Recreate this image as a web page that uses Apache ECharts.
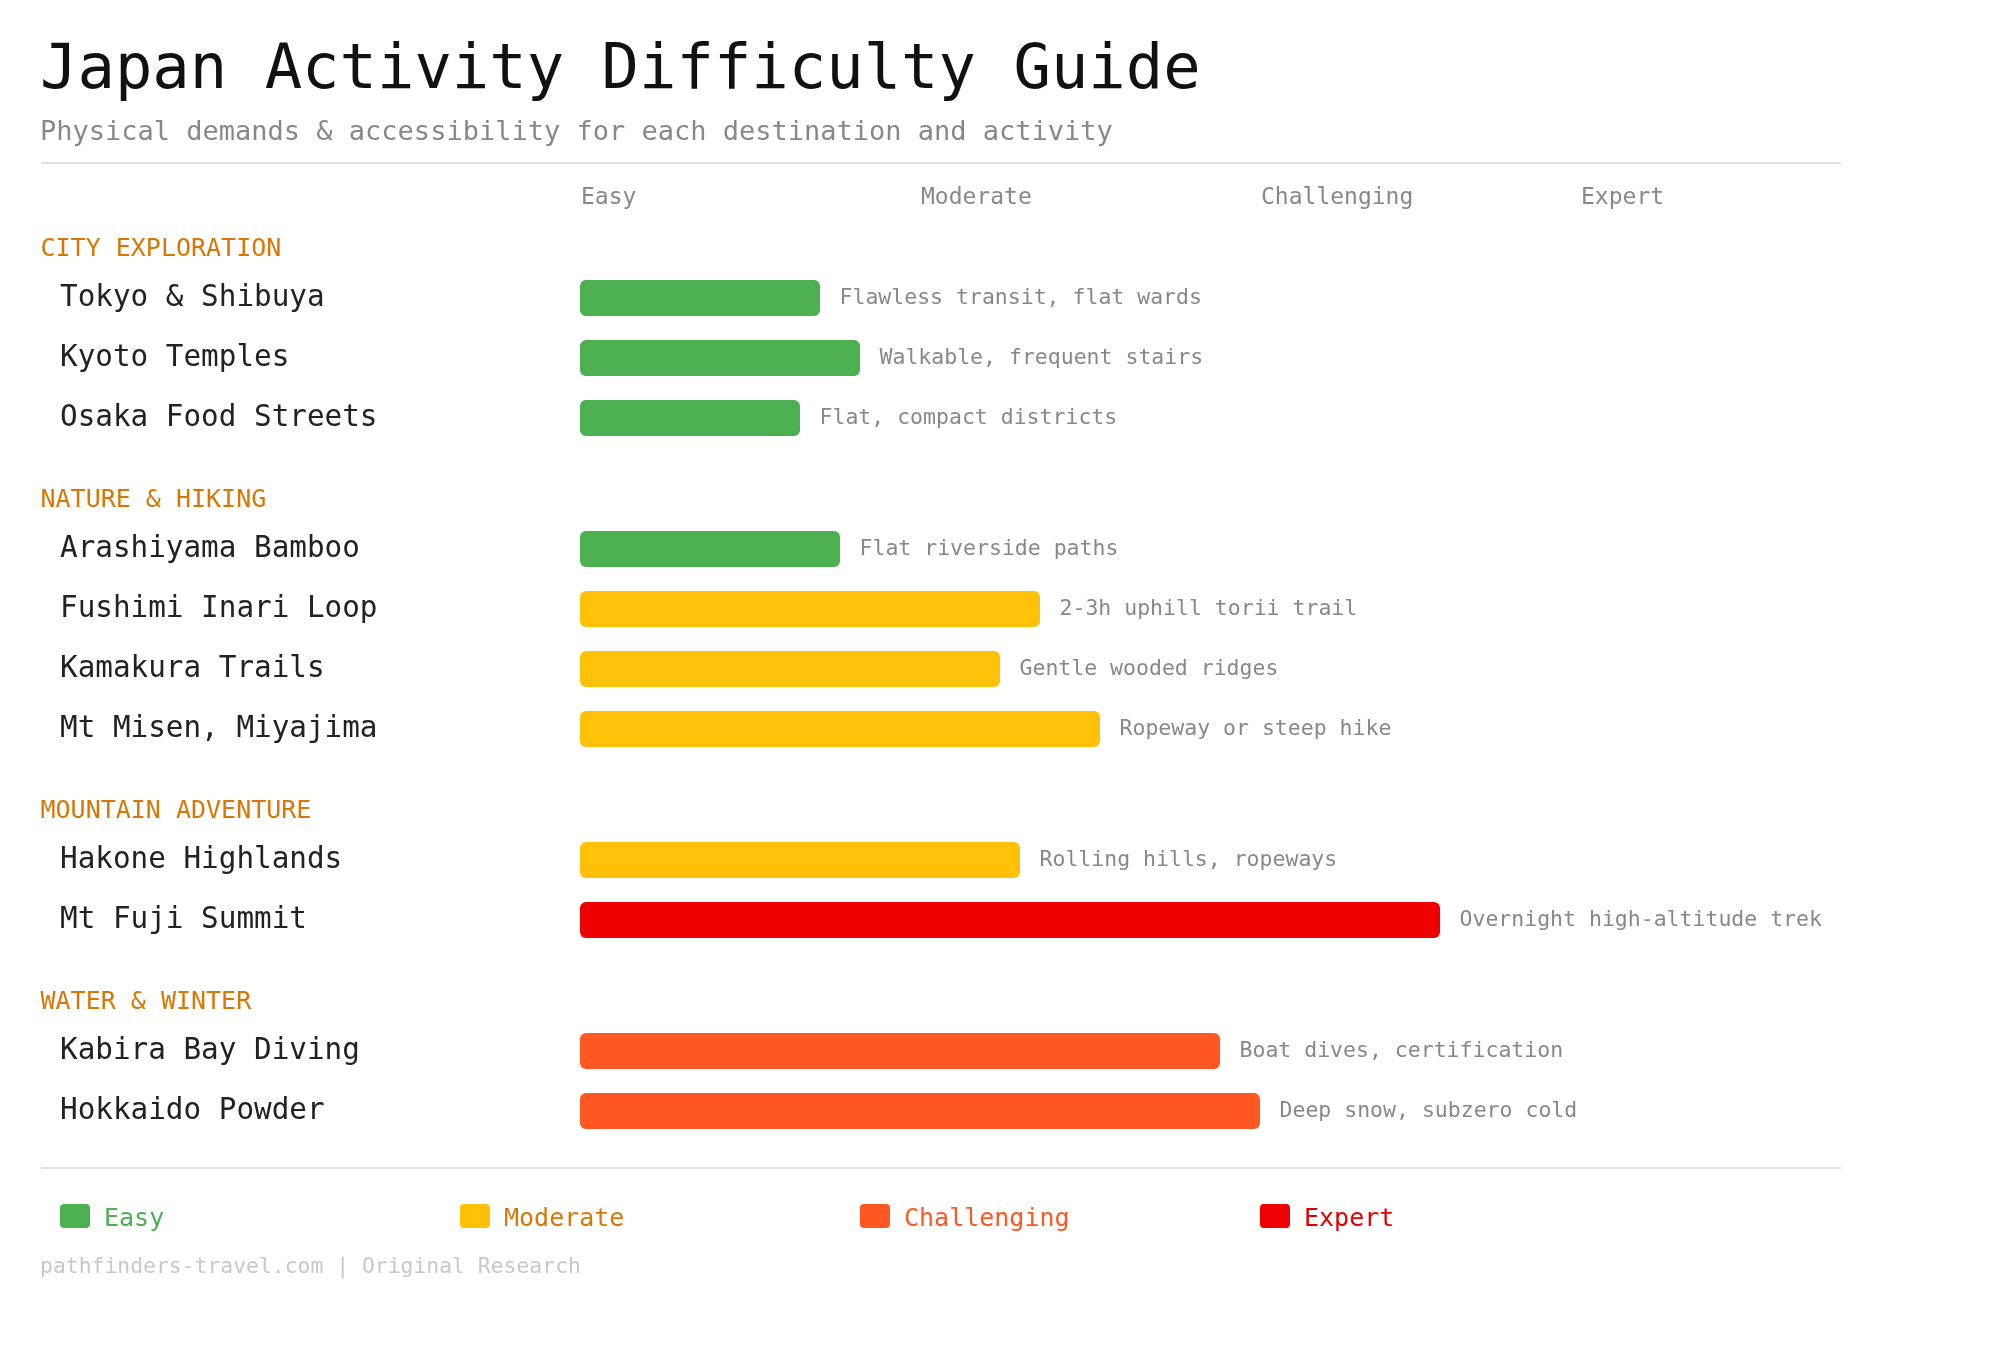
<!DOCTYPE html>
<html>
<head>
<meta charset="utf-8">
<title>Japan Activity Difficulty Guide</title>
<script src="https://cdn.jsdelivr.net/npm/echarts@6/dist/echarts.min.js"></script>
<style>
  html, body { margin: 0; padding: 0; background: #fff; }
  #main { width: 2000px; height: 1360px; }
</style>
</head>
<body>
<div id="main"></div>
<script>
// groups of activities, in display order
const groups = ['CITY EXPLORATION', 'NATURE & HIKING', 'MOUNTAIN ADVENTURE', 'WATER & WINTER'];

const activities = [
  'Tokyo & Shibuya', 'Kyoto Temples', 'Osaka Food Streets',
  'Arashiyama Bamboo', 'Fushimi Inari Loop', 'Kamakura Trails', 'Mt Misen, Miyajima',
  'Hakone Highlands', 'Mt Fuji Summit',
  'Kabira Bay Diving', 'Hokkaido Powder'
];
const activityGroup = [0, 0, 0, 1, 1, 1, 1, 2, 2, 3, 3];

// difficulty score, 0-100
const scores = [24, 28, 22, 26, 46, 42, 52, 44, 86, 64, 68];

const levels = [
  'Easy', 'Easy', 'Easy',
  'Easy', 'Moderate', 'Moderate', 'Moderate',
  'Moderate', 'Expert',
  'Challenging', 'Challenging'
];

const notes = [
  'Flawless transit, flat wards', 'Walkable, frequent stairs', 'Flat, compact districts',
  'Flat riverside paths', '2-3h uphill torii trail', 'Gentle wooded ridges', 'Ropeway or steep hike',
  'Rolling hills, ropeways', 'Overnight high-altitude trek',
  'Boat dives, certification', 'Deep snow, subzero cold'
];

const levelNames = ['Easy', 'Moderate', 'Challenging', 'Expert'];
const footerText = 'pathfinders-travel.com | Original Research';

// colours per level
const barColors = { Easy: '#4CAF50', Moderate: '#FFC107', Challenging: '#FF5722', Expert: '#EE0000' };
const legendTextColors = { Easy: '#4CAF50', Moderate: '#D97706', Challenging: '#FF5722', Expert: '#E00000' };

const FONT = '"DejaVu Sans Mono", monospace';

var chart = echarts.init(document.getElementById('main'), null, { width: 2000, height: 1360 });

var grids = [], xAxes = [], yAxes = [], series = [], graphics = [];

function txt(x, y, text, size, color, weight) {
  return {
    type: 'text', x: x, y: y, silent: true,
    style: {
      text: text, fontSize: size, fontFamily: FONT, fontWeight: weight || 'normal',
      fill: color, textVerticalAlign: 'middle', verticalAlign: 'middle'
    }
  };
}

// title block
graphics.push(txt(40, 72, 'Japan Activity Difficulty Guide', 62.2, '#111'));
graphics.push(txt(40, 133, 'Physical demands & accessibility for each destination and activity', 27, '#888'));
graphics.push({ type: 'line', silent: true, shape: { x1: 41, y1: 163, x2: 1841, y2: 163 }, style: { stroke: '#e2e2e2', lineWidth: 2 } });

// difficulty scale header
var scaleX = [581, 921, 1261, 1581];
levelNames.forEach(function (n, i) {
  graphics.push(txt(scaleX[i], 198, n, 23, '#888'));
});

// one grid per group
var ROW = 60;
var gridTop = 268;
groups.forEach(function (g, gi) {
  var idx = [];
  activityGroup.forEach(function (a, i) { if (a === gi) idx.push(i); });
  var h = idx.length * ROW;

  graphics.push(txt(40.5, gridTop - 19, g, 25, '#D97706'));

  grids.push({ left: 580, width: 1000, top: gridTop, height: h });
  xAxes.push({ type: 'value', gridIndex: gi, min: 0, max: 100, show: false });
  yAxes.push({
    type: 'category', gridIndex: gi, inverse: true,
    data: idx.map(function (i) { return activities[i]; }),
    axisLine: { show: false }, axisTick: { show: false }, splitLine: { show: false },
    axisLabel: { align: 'left', margin: 520, fontSize: 29.3, color: '#222', fontFamily: FONT, padding: [5, 0, 0, 0] }
  });
  series.push({
    type: 'bar', xAxisIndex: gi, yAxisIndex: gi, barWidth: 36, silent: true,
    data: idx.map(function (i) {
      return { value: scores[i], itemStyle: { color: barColors[levels[i]] } };
    }),
    itemStyle: { borderRadius: 6 },
    label: {
      show: true, position: 'right', distance: 19.5, padding: [4, 0, 0, 0],
      fontSize: 21.5, color: '#888', fontFamily: FONT,
      formatter: function (p) { return notes[idx[p.dataIndex]]; }
    }
  });

  gridTop += h + 71;
});

// bottom rule, legend, footer
graphics.push({ type: 'line', silent: true, shape: { x1: 41, y1: 1168, x2: 1841, y2: 1168 }, style: { stroke: '#e2e2e2', lineWidth: 2 } });
var legendX = [60, 460, 860, 1260];
levelNames.forEach(function (n, i) {
  graphics.push({ type: 'rect', silent: true, shape: { x: legendX[i], y: 1204, width: 30, height: 24, r: 4 }, style: { fill: barColors[n] } });
  graphics.push(txt(legendX[i] + 44, 1219, n, 25, legendTextColors[n]));
});
graphics.push(txt(40, 1267, footerText, 21.4, '#c8c8c8'));

chart.setOption({
  animation: false,
  backgroundColor: '#ffffff',
  grid: grids,
  xAxis: xAxes,
  yAxis: yAxes,
  series: series,
  graphic: graphics
});
</script>
</body>
</html>
